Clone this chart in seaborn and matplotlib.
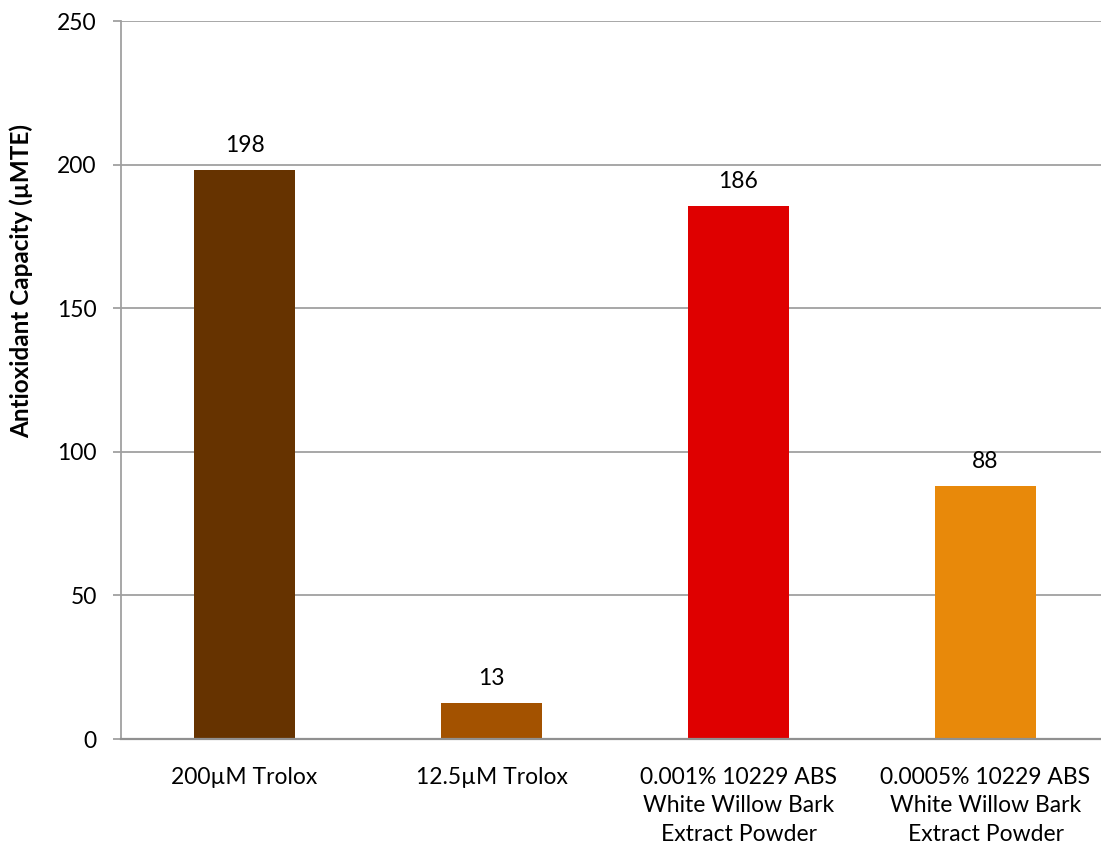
import matplotlib
matplotlib.use("Agg")
import matplotlib.pyplot as plt
import seaborn as sns
import pandas as pd

categories = ["200\u00b5M Trolox", "12.5\u00b5M Trolox",
              "0.001% 10229 ABS\nWhite Willow Bark\nExtract Powder",
              "0.0005% 10229 ABS\nWhite Willow Bark\nExtract Powder"]
values = [198.2, 12.6, 185.6, 88.1]
colors = ["#663300", "#A35200", "#DF0000", "#E8890A"]
y_label = "Antioxidant Capacity (\u00b5MTE)"
y_ticks = [0, 50, 100, 150, 200, 250]

sns.set_theme(style="white")
plt.rcParams['font.family'] = ['Lato', 'DejaVu Sans']
plt.rcParams['text.color'] = 'black'
plt.rcParams['axes.labelcolor'] = 'black'
plt.rcParams['xtick.color'] = 'black'
plt.rcParams['ytick.color'] = 'black'

df = pd.DataFrame({"cat": categories, "val": values})

fig = plt.figure(figsize=(11.01, 8.48), dpi=100)
ax = fig.add_axes([121/1101, 1-739/848, 988/1101, (739-21)/848])
sns.barplot(data=df, x="cat", y="val", hue="cat", palette=colors,
            width=0.405, legend=False, ax=ax, saturation=1, linewidth=0)

ax.set_ylim(0, 250)
ax.set_yticks(y_ticks)
ax.yaxis.grid(True, color="#A0A0A0", linewidth=1.3)
ax.set_axisbelow(True)
for s in ["top", "right"]:
    ax.spines[s].set_visible(False)
ax.spines["left"].set_color("#A0A0A0")
ax.spines["left"].set_linewidth(1.3)
ax.spines["bottom"].set_color("#909090")
ax.spines["bottom"].set_linewidth(1.6)
ax.tick_params(axis="y", which="major", left=True, length=5.5, width=1.3,
               color="#A0A0A0", labelcolor="black", labelsize=16.5, pad=12)
ax.tick_params(axis="x", bottom=False, labelsize=16.5, pad=14, labelcolor="black")
for t in ax.get_xticklabels():
    t.set_linespacing(1.45)
ax.set_xlabel("")
ax.set_ylabel(y_label, fontsize=17.5, fontweight="bold")
ax.yaxis.set_label_coords(33 / 1101, 1 - 281 / 848, transform=fig.transFigure)
ax.set_xlim(-0.5, 3.5)

for c in ax.containers:
    ax.bar_label(c, fmt="%.0f", padding=10, fontsize=16.5, color="black")

fig.savefig("out.png", dpi=100)
